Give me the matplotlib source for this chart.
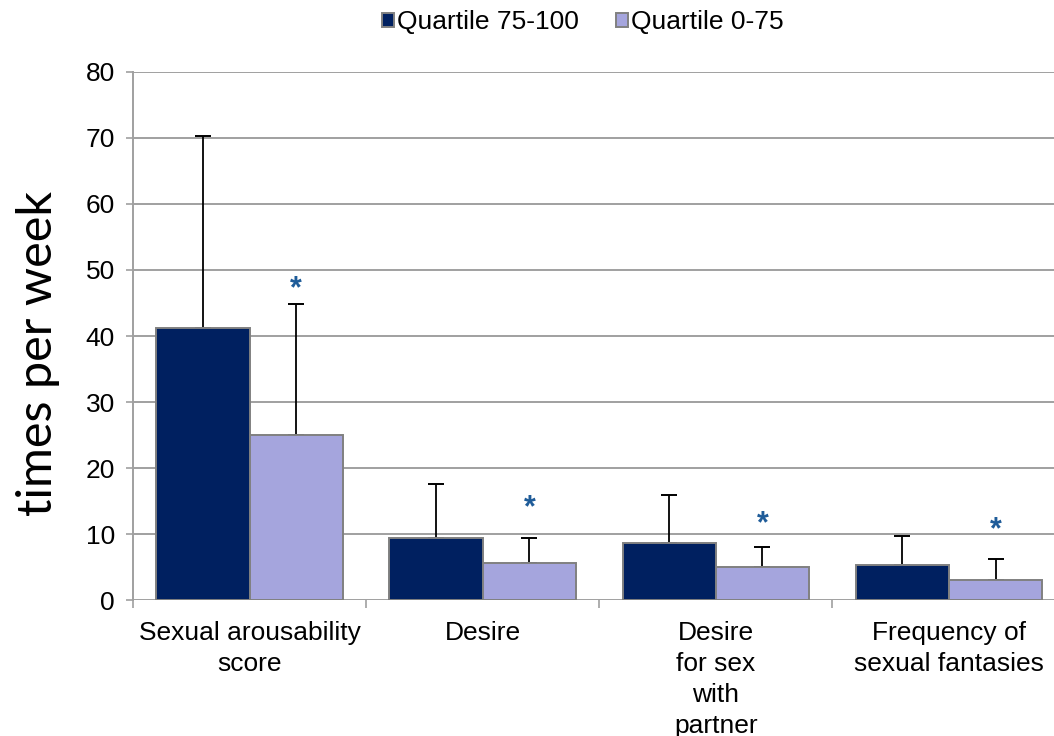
import matplotlib
matplotlib.use("Agg")
import matplotlib.pyplot as plt
import matplotlib.transforms as mtransforms
from matplotlib.patches import Patch
import numpy as np

categories = ["Sexual arousability\nscore", "Desire", "Desire\nfor sex\nwith\npartner",
              "Frequency of\nsexual fantasies"]
series_names = ["Quartile 75-100", "Quartile 0-75"]
top_mean = [41.2, 9.5, 8.6, 5.4]
top_sd = [29.1, 8.1, 7.4, 4.4]
rest_mean = [25.0, 5.6, 5.0, 3.0]
rest_sd = [19.9, 3.8, 3.0, 3.3]
# height of the significance asterisk above each "Quartile 0-75" bar
star_y = [48.2, 15.0, 12.6, 11.7]
y_ticks = [0, 10, 20, 30, 40, 50, 60, 70, 80]

DARK = "#002060"
LIGHT = "#A5A5DD"
EDGE = "#808080"
GRID = "#A0A0A0"
STAR = "#1F5C99"

plt.rcParams["font.family"] = ["Liberation Sans", "DejaVu Sans"]

fig = plt.figure(figsize=(10.54, 7.36), dpi=100)
ax = fig.add_axes([133 / 1054, 1 - 600.3 / 736, (1065.5 - 133) / 1054, (600.3 - 71.7) / 736])

x = np.arange(len(categories))
w = 0.4
ax.bar(x - w / 2, top_mean, w, color=DARK, edgecolor=EDGE, linewidth=1.4, zorder=3)
ax.bar(x + w / 2, rest_mean, w, color=LIGHT, edgecolor=EDGE, linewidth=1.4, zorder=3)

err_kw = dict(fmt="none", ecolor="black", elinewidth=1.3, capsize=6, capthick=1.4, zorder=2)
ax.errorbar(x - w / 2, top_mean, yerr=[np.zeros(len(x)), top_sd], **err_kw)
ax.errorbar(x + w / 2, rest_mean, yerr=[np.zeros(len(x)), rest_sd], **err_kw)

# significance markers (glyph sits high in its box, so nudge the box down)
star_tr = mtransforms.offset_copy(ax.transData, fig=fig, x=0, y=-7, units="dots")
for xi, sy in zip(x + w / 2, star_y):
    ax.text(xi, sy, "*", ha="center", va="center", fontsize=22, fontweight="bold",
            color=STAR, zorder=4, transform=star_tr)

ax.set_xlim(-0.5, len(categories) - 0.5)
ax.set_ylim(0, 80)
ax.set_yticks(y_ticks)
ax.yaxis.grid(True, color=GRID, linewidth=1.4, zorder=0)
ax.set_axisbelow(True)

for s in ["top", "right", "bottom"]:
    ax.spines[s].set_visible(False)
ax.spines["left"].set_color(GRID)
ax.spines["left"].set_linewidth(1.4)

ax.tick_params(axis="y", length=5, width=1.2, color=GRID, pad=8, labelsize=19, labelcolor="black")
ax.set_xticks(x)
ax.set_xticklabels(categories, fontsize=19, linespacing=1.36)
ax.tick_params(axis="x", which="major", length=0, pad=15)
ax.set_xticks(np.arange(-0.5, len(categories)), minor=True)
ax.tick_params(axis="x", which="minor", length=6, width=1.2, color=GRID)

fig.text(38 / 1054, 1 - 354 / 736, "times per week", rotation=90, ha="center", va="center",
         fontsize=35, family=["Lato", "DejaVu Sans"])

handles = [Patch(facecolor=DARK, edgecolor=EDGE, linewidth=1.4),
           Patch(facecolor=LIGHT, edgecolor=EDGE, linewidth=1.4)]
fig.legend(handles, series_names, loc="center", bbox_to_anchor=(0.553, 0.970), ncol=2,
           frameon=False, fontsize=19, handlelength=0.45, handleheight=0.45,
           handletextpad=0.12, columnspacing=1.4)

fig.savefig("out.png", dpi=100)
